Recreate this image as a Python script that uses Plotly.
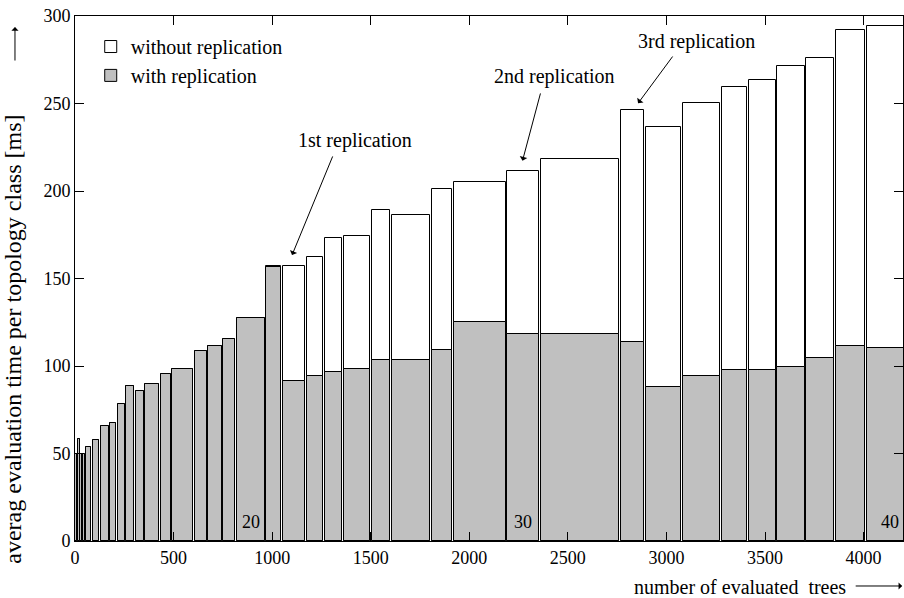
import plotly.graph_objects as go

# ---- data: one bar per topology class (tree-count interval on x) ----
trees_start = [1, 8, 14, 24, 33, 43, 55, 90, 131, 176, 217, 259, 307, 357, 435, 494, 607, 675, 751, 821,
               970, 1053, 1175, 1266, 1362, 1505, 1608, 1812, 1921, 2192, 2366, 2768, 2894, 3083, 3280,
               3417, 3562, 3709, 3859, 4016]
trees_end = [8, 14, 24, 33, 43, 53, 82, 123, 170, 210, 254, 300, 351, 427, 489, 600, 668, 744, 813, 962,
             1044, 1166, 1259, 1355, 1497, 1599, 1803, 1913, 2184, 2356, 2759, 2885, 3074, 3272, 3410,
             3555, 3702, 3851, 4006, 4250]
with_replication = [50, 50, 58.5, 50, 50, 50, 53.7, 57.5, 65.5, 67.6, 78.5, 88.4, 85.5, 89.5, 95.4, 98.5,
                    108.4, 111.4, 115.6, 127.4, 156.4, 91.4, 94.4, 96.4, 98.4, 103.3, 103.3, 109.4, 125.2,
                    118.5, 118.5, 113.6, 88.0, 94.3, 97.5, 97.5, 99.2, 104.4, 111.4, 110.3]
without_replication = [50, 50, 58.5, 50, 50, 50, 53.7, 57.5, 65.5, 67.6, 78.5, 88.4, 85.5, 89.5, 95.4, 98.5,
                       108.4, 111.4, 115.6, 127.4, 157.3, 157.3, 162.4, 173.3, 174.5, 189.3, 186.3, 201.1,
                       205.1, 211.2, 218.1, 246.3, 236.4, 250.1, 259.3, 263.2, 271.3, 276.2, 292.2, 294.1]
class_labels = ["20", "30", "40"]
class_label_index = [19, 29, 39]
x_ticks = [0, 500, 1000, 1500, 2000, 2500, 3000, 3500, 4000]
y_ticks = [0, 50, 100, 150, 200, 250, 300]
replication_labels = ["1st replication", "2nd replication", "3rd replication"]

mids = [(a + b) / 2 for a, b in zip(trees_start, trees_end)]
widths = [b - a for a, b in zip(trees_start, trees_end)]

FONT = "Liberation Serif, Times New Roman, serif"

fig = go.Figure()
fig.add_trace(go.Bar(
    x=mids, y=without_replication, width=widths, name="without replication", showlegend=True,
    marker=dict(color="white", line=dict(color="black", width=1)), legend="legend"))
fig.add_trace(go.Bar(
    x=mids, y=with_replication, width=widths, name="with replication", showlegend=True,
    marker=dict(color="#c0c0c0", line=dict(color="black", width=1)), legend="legend2"))

axis_common = dict(showline=True, linecolor="black", linewidth=1, mirror="allticks",
                   ticks="inside", ticklen=9, tickcolor="black", tickwidth=1,
                   showgrid=False, zeroline=False, ticklabeloverflow="allow",
                   tickfont=dict(family=FONT, size=18, color="black"))
fig.update_xaxes(range=[0, 4200], tickvals=x_ticks, **axis_common)
fig.update_yaxes(range=[0, 300], tickvals=y_ticks, **axis_common)

ann = []
# class number labels
for lab, i in zip(class_labels, class_label_index):
    ann.append(dict(x=mids[i], y=4, text=lab, showarrow=False, xanchor="center",
                    yanchor="bottom", font=dict(family=FONT, size=18, color="black")))

# replication arrows + texts
arrow_specs = [  # (head x, head y, tail x, tail y, text x, text y)
    (1101, 163.4, 1310, 220.6, 1421, 228.6),
    (2270, 217.3, 2363, 256.6, 2434, 265.7),
    (2856, 250.1, 3037, 277.7, 3151, 285.3),
]
for lab, (hx, hy, tx, ty, lx, ly) in zip(replication_labels, arrow_specs):
    ann.append(dict(x=hx, y=hy, ax=tx, ay=ty, axref="x", ayref="y", text="", showarrow=True,
                    arrowhead=1, arrowsize=1.3, arrowwidth=1, arrowcolor="black"))
    ann.append(dict(x=lx, y=ly, text=lab, showarrow=False, xanchor="center",
                    font=dict(family=FONT, size=20, color="black")))

# axis titles with arrows (plot area: x 75..903 px, y 16..541 px)
ann.append(dict(xref="paper", yref="paper", x=-0.0745, y=0.384, xanchor="center", yanchor="middle",
                text="averag evaluation time per topology class [ms]",
                textangle=-90, showarrow=False, font=dict(family=FONT, size=24, color="black")))
ann.append(dict(xref="paper", yref="paper", x=-0.0725, y=0.979, ax=0, ay=35, text="", showarrow=True,
                arrowhead=1, arrowsize=1.2, arrowwidth=1, arrowcolor="black"))
ann.append(dict(xref="paper", yref="paper", x=0.803, y=-0.0876, xanchor="center", yanchor="middle",
                text="number of evaluated\u00a0 trees",
                showarrow=False, font=dict(family=FONT, size=20, color="black")))
ann.append(dict(xref="paper", yref="paper", x=0.999, y=-0.0857, ax=-48, ay=0, text="", showarrow=True,
                arrowhead=1, arrowsize=1.2, arrowwidth=1, arrowcolor="black"))

fig.update_layout(
    width=904, height=598,
    margin=dict(l=75, r=1, t=16, b=57),
    paper_bgcolor="white", plot_bgcolor="white",
    barmode="overlay", bargap=0,
    showlegend=True,
    annotations=ann,
    legend=dict(x=0.019, y=0.979, xanchor="left", yanchor="top", bgcolor="rgba(0,0,0,0)",
                font=dict(family=FONT, size=20, color="black")),
    legend2=dict(x=0.019, y=0.924, xanchor="left", yanchor="top", bgcolor="rgba(0,0,0,0)",
                 font=dict(family=FONT, size=20, color="black")),
)

fig.write_html("out.html", default_width="904px", default_height="598px",
               config={"displayModeBar": False},
               post_script="document.body.style.margin='0';document.body.style.overflow='hidden';")
